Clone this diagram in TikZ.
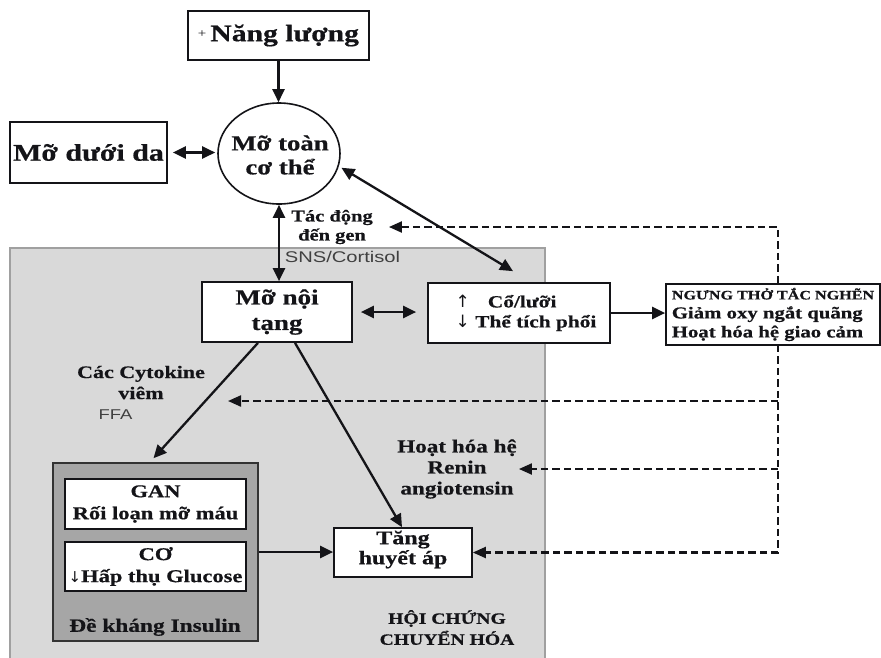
\documentclass[tikz,border=0pt]{standalone}
\usepackage{fontspec}
\setmainfont{Liberation Serif}[FakeStretch=1.25, BoldFeatures={FakeBold=0.6}]
\setsansfont{Liberation Sans}[FakeStretch=1.3]
\newfontfamily\arrowfont{DejaVu Sans}
\usetikzlibrary{arrows.meta,calc,shapes.geometric}

\definecolor{zonefill}{RGB}{217,217,217}
\definecolor{zoneline}{RGB}{160,160,160}
\definecolor{ganfill}{RGB}{166,166,166}
\definecolor{ink}{RGB}{20,20,24}

\newcommand\fsz[2]{\fontsize{#1}{#2}\selectfont}

\begin{document}
\begin{tikzpicture}[x=1pt,y=-1pt,
  box/.style={draw=ink, line width=1.7pt, fill=white, inner sep=0pt, align=center, text=ink},
  lbl/.style={inner sep=0pt, align=center, text=ink},
  conn/.style={draw=ink, line width=2.3pt, -{Triangle[length=13pt,width=12pt]}},
  biconn/.style={draw=ink, line width=2.3pt, {Triangle[length=13pt,width=12pt]}-{Triangle[length=13pt,width=12pt]}},
  feedback/.style={draw=ink, line width=2.2pt, dash pattern=on 7.5pt off 4pt},
  fbtip/.style={-{Triangle[length=13pt,width=11pt]}},
  fbbitip/.style={{Triangle[length=13pt,width=11pt]}-{Triangle[length=13pt,width=11pt]}}
]
\clip (0,0) rectangle (881,657);
\fill[white] (0,0) rectangle (881,657);

% metabolic syndrome zone
\draw[fill=zonefill, draw=zoneline, line width=1.5pt] (10,248) rectangle (545,690);

% labels
\node[lbl, font=\fsz{16.4}{19}\bfseries] (tac) at (332,227) {Tác động\\đến gen};
\node[lbl, font=\sffamily\fsz{15.5}{18}, text=black!75] (sns) at (342.5,257) {SNS/Cortisol};
\node[lbl, font=\fsz{17.6}{21}\bfseries] (cyto) at (141,382.5) {Các Cytokine\\viêm};
\node[lbl, font=\sffamily\fsz{14.2}{17}, text=black!75] (ffa) at (115.5,415) {FFA};
\node[lbl, font=\fsz{18.5}{21}\bfseries] (renin) at (457,469) {Hoạt hóa hệ\\Renin\\angiotensin};
\node[lbl, font=\fsz{15.7}{21}\bfseries] (mets) at (447,627.5) {HỘI CHỨNG\\CHUYỂN HÓA};

% feedback coordinates on the dashed return line
\coordinate (fbtop) at (778,227);
\coordinate (fbbot) at (778,552.5);
\coordinate (fbffa) at (778,401);
\coordinate (ffatip) at (228,401);
\coordinate (fbrenin) at (778,469);
\coordinate (tactip) at ($(tac.east)+(16,0)$);

% Tăng huyết áp box (needed for dashed path)
\node[box, minimum width=138pt, minimum height=49pt] (tang) at (403,552.5) {};
\node[lbl, font=\fsz{19.2}{20}\bfseries] (tangtxt) at (403,549.5) {Tăng\\huyết áp};

% dashed feedback paths
\draw[feedback, fbbitip] (tactip) -- (fbtop) -- (fbbot) -- (fbbot -| tang.east);
\draw[feedback, fbtip] (fbffa) -- (ffatip);
\draw[feedback, fbtip] (fbrenin) -- ([xshift=2pt]renin.east);

% main boxes
\node[box, minimum width=181pt, minimum height=49pt, font=\fsz{23.7}{26}\bfseries] (nang) at (278.5,35.5)
  {\raisebox{4pt}{\mdseries\fsz{12}{12}+}\,Năng lượng};
\node[box, minimum width=157pt, minimum height=61pt, font=\fsz{23.9}{26}\bfseries] (duoi) at (88.5,152.5) {Mỡ dưới da};
\node[draw=ink, ellipse, line width=1.6pt, fill=white, minimum width=122pt, minimum height=101pt,
  inner sep=0pt] (toan) at (279,153.5) {};
\node[lbl, font=\fsz{21.4}{24}\bfseries] (toantxt) at (280,155) {Mỡ toàn\\cơ thể};
\node[box, minimum width=150pt, minimum height=60pt, font=\fsz{21.6}{25.5}\bfseries] (noi) at (277,312) {Mỡ nội\\tạng};
\node[box, minimum width=182pt, minimum height=60pt, font=\fsz{17.1}{20}\bfseries, align=left] (co) at (519,313)
  {\hspace*{14pt}{\arrowfont\mdseries\fsz{17}{20}↑}\hspace{18pt}Cổ/lưỡi\\
   \hspace*{14pt}{\arrowfont\mdseries\fsz{17}{20}↓} Thể tích phổi};
\node[box, minimum width=214pt, minimum height=61pt, font=\fsz{16.6}{19}\bfseries, align=left] (ngung) at (773,314.5)
  {{\fsz{12.9}{19}NGƯNG THỞ TẮC NGHẼN}\\ Giảm oxy ngắt quãng\\Hoạt hóa hệ giao cảm};

% insulin resistance group
\node[draw=black!80, fill=ganfill, line width=1.6pt, minimum width=205pt, minimum height=178pt, inner sep=0pt] (gan) at (155.5,552) {};
\node[box, minimum width=181pt, minimum height=50pt, font=\fsz{18}{22}\bfseries] (liver) at (155.5,504) {GAN\\Rối loạn mỡ máu};
\node[box, minimum width=181pt, minimum height=49pt, font=\fsz{18}{22}\bfseries] (muscle) at (155.5,566.5)
  {CƠ\\{\arrowfont\mdseries\fsz{15}{22}↓}Hấp thụ Glucose};
\node[lbl, font=\fsz{18.7}{22}\bfseries] (ir) at (155,627) {Đề kháng Insulin};

% connectors
\draw[conn] (nang.south) -- (nang.south |- toan.north);
\draw[biconn, shorten <=5pt, shorten >=2pt] (duoi.east) -- (duoi.east -| toan.west);
\draw[biconn] (toan.south) -- (toan.south |- noi.north);
\draw[biconn, shorten <=3pt] (toan.-12) -- ([xshift=-6pt,yshift=11pt]co.north);
\draw[biconn, shorten <=8pt, shorten >=11pt] (noi.east) -- (noi.east -| co.west);
\draw[conn] (co.east) -- (co.east -| ngung.west);
\draw[conn] ([xshift=-19pt]noi.south) -- ([xshift=-2pt,yshift=4pt]gan.north);
\draw[conn] ([xshift=18pt]noi.south) -- ([xshift=-1pt]tang.north);
\draw[conn] (gan.east) -- (gan.east -| tang.west);
\end{tikzpicture}
\end{document}
